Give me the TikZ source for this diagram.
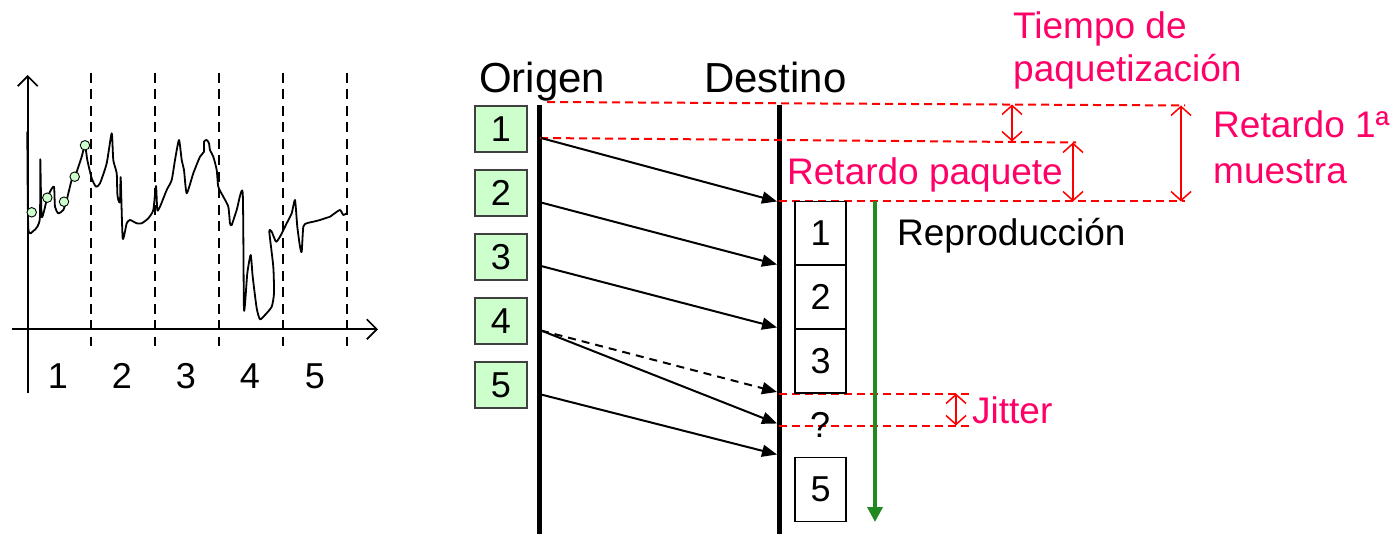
\documentclass[tikz,border=0pt]{standalone}
\usepackage{fontspec}
\setmainfont{Liberation Sans}
\usetikzlibrary{arrows.meta}
\definecolor{pk}{HTML}{FF0066}
\definecolor{boxgreen}{HTML}{CCFFCC}
\definecolor{arrgreen}{HTML}{228822}
\begin{document}
\begin{tikzpicture}[x=1pt,y=-1pt,
  lbl/.style={inner sep=0pt, anchor=base west, font=\fontsize{37}{44}\selectfont},
  redlbl/.style={lbl, text=pk},
  biglbl/.style={inner sep=0pt, anchor=base west, font=\fontsize{42}{48}\selectfont},
  numlbl/.style={inner sep=0pt, anchor=base, font=\fontsize{36}{40}\selectfont},
  srcbox/.style={draw=black!75, line width=1.5pt, fill=boxgreen, minimum width=52pt, minimum height=46pt, inner sep=0pt, font=\fontsize{36}{40}\selectfont},
  dstbox/.style={draw=black, line width=1.5pt, minimum width=51pt, minimum height=64pt, inner sep=0pt, font=\fontsize{36}{40}\selectfont},
  timeline/.style={line width=5pt},
  pkt/.style={line width=2pt, -{Triangle[length=15pt,width=12pt]}},
  rdash/.style={red, line width=2pt, dash pattern=on 8pt off 5pt},
  meas/.style={red, line width=1.5pt, {Straight Barb[length=9pt,width=20pt]}-{Straight Barb[length=9pt,width=20pt]}},
  axis/.style={line width=1.7pt, -{Straight Barb[length=10pt,width=20pt]}},
  grid/.style={line width=1.9pt, dash pattern=on 10pt off 6.5pt},
  dot/.style={circle, draw=black, line width=0.9pt, fill=boxgreen, minimum size=9.5pt, inner sep=0pt}
]
\useasboundingbox (0,0) rectangle (1394,534);

% ---------- left chart ----------
\coordinate (yb) at (27.7,393);
\coordinate (yt) at (27.7,75);
\coordinate (xl) at (11.7,329.3);
\coordinate (xr) at (378,329.3);
\draw[axis] (yb) -- (yt);
\draw[axis] (xl) -- (xr);
\foreach \i/\x in {1/90.7,2/154.7,3/219,4/283,5/347}{
  \coordinate (g\i t) at (\x,73);
  \coordinate (g\i b) at (\x,346);
  \draw[grid] (g\i t) -- (g\i b);
}
\foreach \i/\x in {1/58,2/122,3/186,4/250,5/315}{
  \node[numlbl] (c\i) at (\x,388) {\i};
}
\draw[line width=1.8pt, line join=round] plot[smooth, tension=0.35] coordinates {
(27.3,131.7) (28.3,228.3) (33.3,231) (37.3,226.7) (40,216.7) (40.3,159.3) (41.7,216.7)
(46.7,200) (50,191.7) (54,186.7) (55,206.7) (58.3,213.3) (63.3,210) (66.7,200)
(71.7,180) (75,176.7) (81.7,156.7) (85,145) (87.3,160) (91.7,178.3) (96,186.7)
(100,183.3) (106.7,163.3) (111.7,133.3) (113.3,160) (116.7,173.3) (117.3,193.3)
(118.3,200) (120,201.7) (120.7,177.3) (122.7,238.3) (126.7,223.3) (130,220)
(136.7,223.3) (141.7,223.3) (148.3,218.3) (153.3,210) (156,186) (157.3,210)
(160,206.7) (166.7,190) (171.7,180) (175,160) (179,140) (181.7,160) (184,170)
(186.7,193.3) (193.3,173.3) (200,156.7) (204,151.7) (204,141.7) (206.7,140)
(209,143.3) (210,150) (213.3,156.7) (216.7,170) (218.3,186.7) (223.3,196.7)
(228.3,206.7) (230,223.3) (231.7,225) (236.7,210) (242.7,192.7) (244,310)
(247.3,273.3) (250.7,255) (252.7,276.7) (256.7,308.3) (260,319.3) (265,315)
(271.7,306.7) (274,293.3) (273.3,266.7) (269.3,231.7) (271.7,231.7) (276,241.7)
(280,236.7) (286.7,223.3) (291.7,213.3) (295,200) (297.3,226.7) (300,246.7)
(301.7,251.7) (303.3,226.7) (306.7,223.3) (313.3,221.7) (320,220) (325,218.3)
(330,216.7) (333.3,214.3) (340,210) (343.3,215) (346.7,213.3)};
\node[dot] (p1) at (31.7,212.3) {};
\node[dot] (p2) at (47.3,197.7) {};
\node[dot] (p3) at (64,201.7) {};
\node[dot] (p4) at (74.7,176.7) {};
\node[dot] (p5) at (85,145.3) {};

% ---------- timelines ----------
\node[biglbl] (orig) at (479,93) {Origen};
\node[biglbl] (dest) at (704,93) {Destino};
\coordinate (ot) at (539,105.5);
\coordinate (ob) at (539,534);
\coordinate (dt) at (779,105.5);
\coordinate (db) at (779,534);
\draw[timeline] (ot) -- (ob);
\draw[timeline] (dt) -- (db);

\foreach \i in {1,...,5}{
  \node[srcbox] (s\i) at (501,{129+64*(\i-1)}) {\i};
}

% red dashed reference lines
\coordinate (r1a) at (547,102);
\coordinate (r1b) at (1185,105.5);
\coordinate (r2a) at (540,138);
\coordinate (r2b) at (1076,142.5);
\coordinate (r3a) at (779,201.5);
\coordinate (r3b) at (1185,201.5);
\draw[rdash] (r1a) -- (r1b);
\draw[rdash] (r2a) -- (r2b);
\draw[rdash] (r3a) -- (r3b);
\coordinate (j1a) at (779,393.5);
\coordinate (j1b) at (969,393.5);
\coordinate (j2a) at (779,425.5);
\coordinate (j2b) at (969,425.5);
\draw[rdash] (j1a) -- (j1b);
\draw[rdash] (j2a) -- (j2b);

% packet arrows
\coordinate (o1) at (541,138);
\coordinate (o2) at (541,202.5);
\coordinate (o3) at (541,266);
\coordinate (o4) at (541,330.5);
\coordinate (o5) at (541,394.5);
\coordinate (d1) at (777,201.5);
\coordinate (d2) at (777,264.5);
\coordinate (d3) at (777,327.5);
\coordinate (d4a) at (777,392);
\coordinate (d4) at (777,423.5);
\coordinate (d5) at (777,454.5);
\draw[pkt] (o1) -- (d1);
\draw[pkt] (o2) -- (d2);
\draw[pkt] (o3) -- (d3);
\draw[pkt, dash pattern=on 8pt off 6pt] (o4) -- (d4a);
\draw[pkt] (o4) -- (d4);
\draw[pkt] (o5) -- (d5);

% playout buffer
\node[dstbox] (b1) at (820.5,233.5) {1};
\node[dstbox] (b2) at (820.5,297) {2};
\node[dstbox] (b3) at (820.5,361) {3};
\node[numlbl] (bq) at (820,437) {?};
\node[dstbox] (b5) at (820.5,489.5) {5};

\coordinate (gt) at (875,201.5);
\coordinate (gb) at (875,522);
\draw[arrgreen, line width=3.5pt, -{Triangle[length=15pt,width=15pt]}] (gt) -- (gb);
\node[lbl] (repro) at (897,246) {Reproducción};

% measurements
\coordinate (m1t) at (1012,104.5);
\coordinate (m1b) at (1012,141.5);
\coordinate (m2t) at (1073,142.5);
\coordinate (m2b) at (1073,201.5);
\coordinate (m3t) at (1181,105.5);
\coordinate (m3b) at (1181,201.5);
\coordinate (m4t) at (956,393.5);
\coordinate (m4b) at (956,425.5);
\draw[meas] (m1t) -- (m1b);
\draw[meas] (m2t) -- (m2b);
\draw[meas] (m3t) -- (m3b);
\draw[meas] (m4t) -- (m4b);

\node[redlbl] (tp1) at (1013,39) {Tiempo de};
\node[redlbl] (tp2) at (1013,82) {paquetización};
\node[redlbl] (rp) at (787,185) {Retardo paquete};
\node[redlbl] (rm1) at (1213,138) {Retardo 1ª};
\node[redlbl] (rm2) at (1213,184) {muestra};
\node[redlbl] (jit) at (972,423) {Jitter};
\end{tikzpicture}
\end{document}
